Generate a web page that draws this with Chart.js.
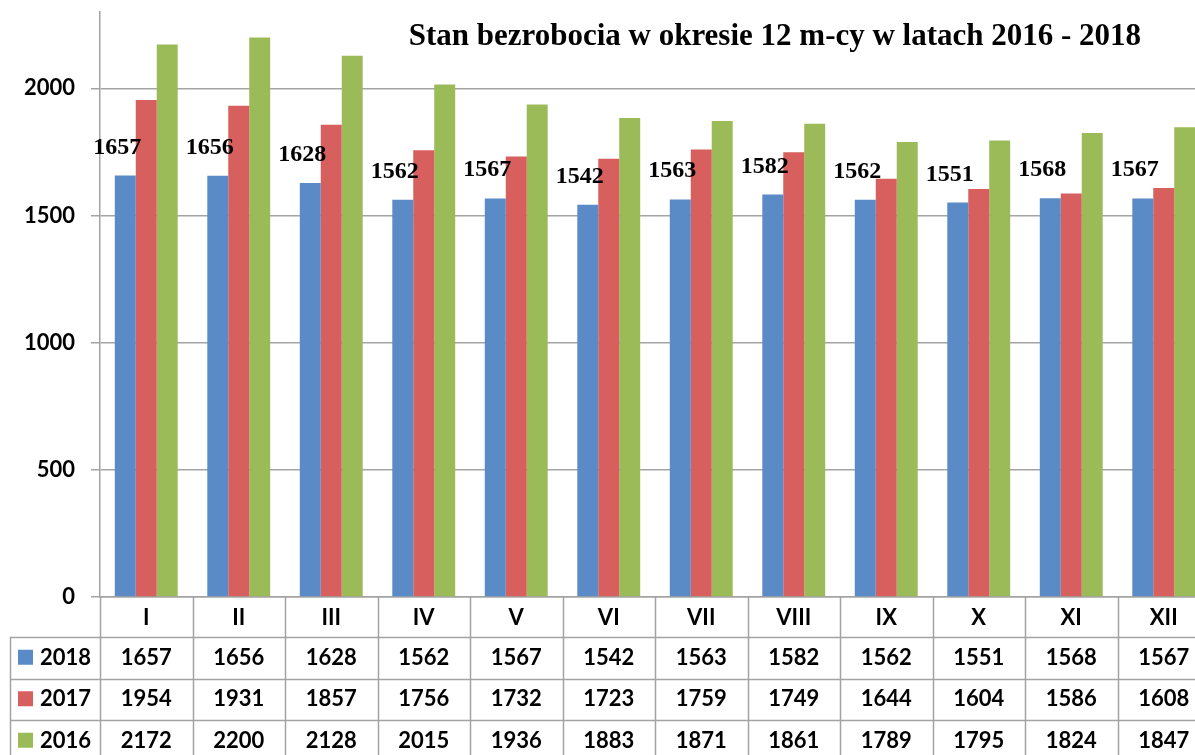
<!DOCTYPE html>
<html>
<head>
<meta charset="utf-8">
<script src="https://cdn.jsdelivr.net/npm/chart.js@4/dist/chart.umd.min.js"></script>
<style>
    html, body { margin: 0; padding: 0; background: #fff; overflow: hidden; }
    #bezrobocie-chart { display: block; }
</style>
</head>
<body>
<canvas id="bezrobocie-chart" width="1215" height="755"></canvas>

<script>
var month_labels = ['I', 'II', 'III', 'IV', 'V', 'VI', 'VII', 'VIII', 'IX', 'X', 'XI', 'XII'];
var series_names = ['2018', '2017', '2016'];
var values_2018 = [1657, 1656, 1628, 1562, 1567, 1542, 1563, 1582, 1562, 1551, 1568, 1567];
var values_2017 = [1954, 1931, 1857, 1756, 1732, 1723, 1759, 1749, 1644, 1604, 1586, 1608];
var values_2016 = [2172, 2200, 2128, 2015, 1936, 1883, 1871, 1861, 1789, 1795, 1824, 1847];
var y_ticks = [0, 500, 1000, 1500, 2000];
var chart_title = 'Stan bezrobocia w okresie 12 m-cy w latach 2016 - 2018';

(function() { "use strict";

    var series_colors = ['#5b8bc6', '#d75f5e', '#9bbb59'];
    var series_values = [values_2018, values_2017, values_2016];
    var line_color = '#a3a3a3';
    var sans_font = 'bold 22px Lato, sans-serif';
    var serif_font = '"Liberation Serif", "Times New Roman", serif';

    var ctx = document.getElementById('bezrobocie-chart').getContext('2d');

    // labels over the 2018 bars
    var barLabels = {
        id: 'barLabels',
        afterDatasetsDraw: function(chart) {
            var c = chart.ctx;
            var meta = chart.getDatasetMeta(0);
            c.save();
            c.font = 'bold 24px ' + serif_font;
            c.fillStyle = '#000';
            c.textAlign = 'center';
            c.textBaseline = 'alphabetic';
            meta.data.forEach(function(bar, i) {
                c.fillText(String(values_2018[i]), bar.x - 8, bar.y - 22);
            });
            c.restore();
        }
    };

    // title + data table under the x axis
    var dataTable = {
        id: 'dataTable',
        afterDraw: function(chart) {
            var c = chart.ctx,
                area = chart.chartArea,
                x_scale = chart.scales.x,
                cat_w = x_scale.width / month_labels.length,
                header_h = 40,
                row_h = 41.5,
                table_left = 10,
                bottom = chart.height + 10;

            c.save();

            c.font = 'bold 31px ' + serif_font;
            c.fillStyle = '#000';
            c.textAlign = 'center';
            c.textBaseline = 'alphabetic';
            c.fillText(chart_title, area.left + area.width * 0.608, 45);

            c.strokeStyle = line_color;
            c.lineWidth = 1.5;
            c.beginPath();
            for (var i = 0; i <= month_labels.length; i++) {
                var bx = Math.round(area.left + i * cat_w) + 0.5;
                c.moveTo(bx, area.bottom);
                c.lineTo(bx, bottom);
            }
            for (var r = 0; r < series_names.length; r++) {
                var ly = Math.round(area.bottom + header_h + r * row_h) + 0.5;
                c.moveTo(table_left, ly);
                c.lineTo(area.right, ly);
            }
            c.moveTo(table_left + 0.5, area.bottom + header_h);
            c.lineTo(table_left + 0.5, bottom);
            c.stroke();

            c.font = sans_font;
            c.textBaseline = 'middle';
            series_names.forEach(function(name, r) {
                var cy = area.bottom + header_h + r * row_h + row_h / 2;
                c.fillStyle = series_colors[r];
                c.fillRect(18, cy - 8, 15, 15);
                c.fillStyle = '#000';
                c.textAlign = 'left';
                c.fillText(name, 40, cy);
                c.textAlign = 'center';
                series_values[r].forEach(function(v, i) {
                    c.fillText(String(v), x_scale.getPixelForValue(i), cy);
                });
            });

            c.restore();
        }
    };

    var bezrobocie_chart = new Chart(ctx, {
        type: 'bar',
        data: {
            labels: month_labels,
            datasets: series_names.map(function(name, i) {
                return {
                    label: name,
                    data: series_values[i],
                    backgroundColor: series_colors[i],
                    borderWidth: 0
                };
            })
        },
        options: {
            responsive: false,
            animation: false,
            devicePixelRatio: 1,
            layout: {
                padding: { left: 0, right: 5, top: 12, bottom: 0 }
            },
            datasets: {
                bar: {
                    categoryPercentage: 0.68,
                    barPercentage: 1.0
                }
            },
            plugins: {
                legend: { display: false },
                tooltip: { enabled: false },
                title: { display: false }
            },
            scales: {
                x: {
                    grid: { drawOnChartArea: false, drawTicks: false },
                    border: { display: true, color: line_color, width: 1.5 },
                    ticks: {
                        color: '#000',
                        padding: 8,
                        font: { family: 'Lato', weight: 'bold', size: 22 },
                        maxRotation: 0,
                        autoSkip: false
                    },
                    afterFit: function(scale) {
                        scale.height = 158;
                        scale.paddingLeft = 0;
                        scale.paddingRight = 0;
                    }
                },
                y: {
                    min: 0,
                    max: 2300,
                    z: 1,
                    grid: {
                        color: 'rgba(90, 90, 90, 0.55)',
                        lineWidth: 1.5,
                        tickLength: 9
                    },
                    border: { display: true, color: line_color, width: 1.5 },
                    ticks: {
                        color: '#000',
                        padding: 16,
                        font: { family: 'Lato', weight: 'bold', size: 22 },
                        callback: function(value) {
                            return String(value);
                        }
                    },
                    afterBuildTicks: function(scale) {
                        scale.ticks = y_ticks.map(function(v) {
                            return { value: v };
                        });
                    },
                    afterFit: function(scale) {
                        scale.width = 100;
                        scale.paddingTop = 0;
                        scale.paddingBottom = 0;
                    }
                }
            }
        },
        plugins: [barLabels, dataTable]
    });

})();
</script>
</body>
</html>
